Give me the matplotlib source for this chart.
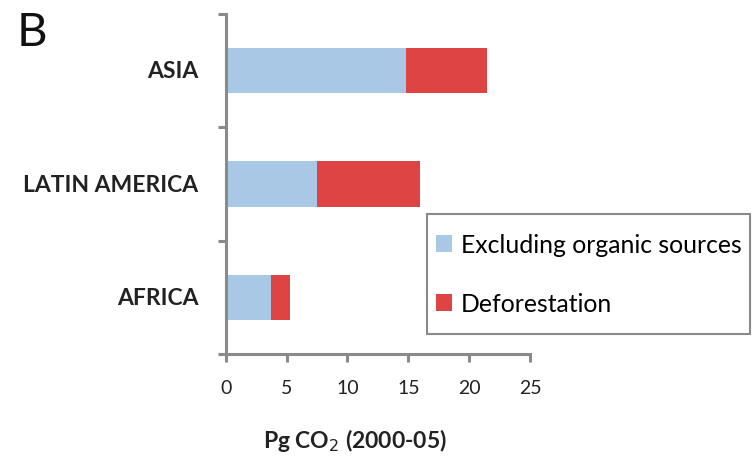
import numpy as np
import matplotlib.pyplot as plt
from matplotlib.patches import Rectangle

plt.rcParams['font.family'] = ['Lato', 'DejaVu Sans']

# Data (Pg CO2, 2000-05)
regions = ['AFRICA', 'LATIN AMERICA', 'ASIA']
excluding_organic = [3.7, 7.5, 14.8]
deforestation = [1.6, 8.5, 6.7]
x_ticks = [0, 5, 10, 15, 20, 25]

blue = '#a8c8e6'
red = '#de4444'
grey = '#8a8a8a'

fig = plt.figure(figsize=(7.55, 4.6), dpi=100)
ax = fig.add_axes([0.299, 0.228, 0.403, 0.739])

y = np.arange(len(regions))
ax.barh(y, excluding_organic, height=0.4, color=blue, label='Excluding organic sources')
ax.barh(y, deforestation, left=excluding_organic, height=0.4, color=red, label='Deforestation')

ax.set_xlim(0, 25)
ax.set_ylim(-0.5, 2.5)
ax.set_xticks(x_ticks)
ax.set_xticklabels([str(t) for t in x_ticks], fontsize=14)

# category labels between boundary ticks
ax.set_yticks([-0.5, 0.5, 1.5, 2.5])
ax.set_yticklabels([])
for yi, name in zip(y, regions):
    ax.text(-0.09, yi, name, transform=ax.get_yaxis_transform(), ha='right', va='center',
            fontsize=16.5, fontweight='bold', color='#222222')

for side in ['top', 'right']:
    ax.spines[side].set_visible(False)
for side in ['left', 'bottom']:
    ax.spines[side].set_color(grey)
    ax.spines[side].set_linewidth(2.2)
ax.tick_params(axis='both', colors=grey, width=2.2, length=6, labelcolor='#222222', pad=12)

ax.set_xlabel('Pg CO$_2$ (2000-05)', fontsize=16.5, fontweight='bold', color='#222222')
ax.xaxis.set_label_coords(0.425, -0.21)

# legend box drawn separately so it can be taller than the text needs
fig.add_artist(Rectangle((0.5656, 0.2717), 0.4278, 0.2609, transform=fig.transFigure,
                         facecolor='white', edgecolor=grey, linewidth=1.5, zorder=3))
leg = fig.legend(loc='center left', bbox_to_anchor=(0.577, 0.402), fontsize=17.8, frameon=False,
                 handlelength=0.68, handleheight=0.68, handletextpad=0.34,
                 labelspacing=1.45, borderpad=0, borderaxespad=0)
leg.set_zorder(4)

fig.text(0.022, 0.9, 'B', fontsize=34, color='#111111')

fig.savefig('out.png', dpi=100)
